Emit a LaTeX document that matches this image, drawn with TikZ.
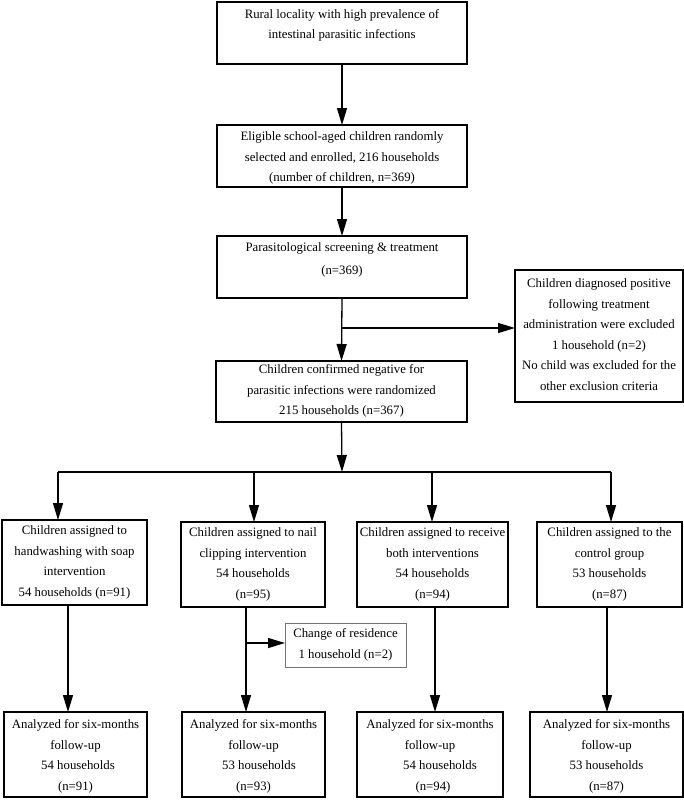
\documentclass[tikz,border=0pt]{standalone}
\usepackage{fontspec}
\setmainfont{Liberation Serif}
\usetikzlibrary{arrows.meta}
\newcommand{\bxtext}[4]{\begin{minipage}[c][#2pt][t]{#1pt}\centering\fontsize{12.8}{20.5}\selectfont\rule{0pt}{#3pt}#4\end{minipage}}
\tikzset{
  box/.style={draw, line width=1.3pt, inner sep=0pt, outer sep=0pt},
  exbox/.style={draw, line width=2.2pt, inner sep=0pt, outer sep=0pt},
  thinbox/.style={draw=black!55, line width=0.9pt, inner sep=0pt, outer sep=0pt},
  conn/.style={line width=1.3pt},
  arr/.style={line width=1.3pt, -{Triangle[length=17pt,width=10pt]}}
}
\begin{document}
\begin{tikzpicture}[x=1pt,y=-1pt]
\useasboundingbox[fill=white] (0,0) rectangle (684,800);
% main column
\node[box] (b1) at (342,33) {\bxtext{250}{62}{16.5}{Rural locality with high prevalence of\\ intestinal parasitic infections}};
\node[box] (b2) at (342,156) {\bxtext{250}{62}{15.5}{Eligible school-aged children randomly\\ selected and enrolled, 216 households\\ (number of children, n=369)}};
\node[box] (b3) at (342,267) {\bxtext{250}{62}{15.5}{Parasitological screening \& treatment\\[2.5pt] (n=369)}};
\node[exbox] (ex) at (599,336) {\bxtext{168}{132}{17.5}{Children diagnosed positive\\ following treatment\\ administration were excluded\\ 1 household (n=2)\\ No child was excluded for the\\ other exclusion criteria}};
\node[box] (b4) at (341.5,391.5) {\bxtext{251}{61}{12.5}{Children confirmed negative for\\ parasitic infections were randomized\\ 215 households (n=367)}};
% groups
\node[box] (ga) at (74.5,562.5) {\bxtext{145}{85}{14.5}{Children assigned to\\ handwashing with soap\\ intervention\\ 54 households (n=91)}};
\node[box] (gb) at (253,564.5) {\bxtext{144}{85}{14.5}{Children assigned to nail\\ clipping intervention\\ 54 households\\ (n=95)}};
\node[box] (gc) at (432.5,564.5) {\bxtext{151}{85}{14.5}{Children assigned to receive\\ both interventions\\ 54 households\\ (n=94)}};
\node[box] (gd) at (609.5,564.5) {\bxtext{145}{85}{14.5}{Children assigned to the\\ control group\\ 53 households\\ (n=87)}};
\node[thinbox] (chg) at (345.5,645) {\bxtext{121}{44}{14.5}{Change of residence\\ 1 household (n=2)}};
% analyzed
\node[box] (aa) at (75.5,754.5) {\bxtext{143}{85}{16.5}{Analyzed for six-months\\ follow-up\\ \hspace*{5pt}54 households\\ (n=91)}};
\node[box] (ab) at (253.5,754.5) {\bxtext{143}{85}{16.5}{Analyzed for six-months\\ follow-up\\ \hspace*{11pt}53 households\\ (n=93)}};
\node[box] (ac) at (430,754.5) {\bxtext{146}{85}{16.5}{Analyzed for six-months\\ follow-up\\ \hspace*{20pt}54 households\\ \hspace*{6pt}(n=94)}};
\node[box] (ad) at (606.5,754.5) {\bxtext{153}{85}{16.5}{Analyzed for six-months\\ follow-up\\ 53 households\\ (n=87)}};
% coordinates
\coordinate (j1) at (342,328);
\coordinate (hub) at (342,472);
\coordinate (ha) at (58,472);
\coordinate (hb) at (254,472);
\coordinate (hc) at (432,472);
\coordinate (hd) at (611,472);
\coordinate (oa) at (68,0);
\coordinate (ob) at (246,0);
\coordinate (oc) at (435,0);
\coordinate (od) at (607,0);
\coordinate (j2) at (246,643);
% connectors
\draw[arr] (b1.south) -- (b2.north);
\draw[arr] (b2.south) -- (b3.north);
\draw[arr] (b3.south) -- (b4.north);
\draw[arr] (j1) -- (ex.west |- j1);
\draw[arr] (b4.south) -- (hub);
\draw[conn] (ha) -- (hd);
\draw[arr] (ha) -- (ha |- ga.north);
\draw[arr] (hb) -- (hb |- gb.north);
\draw[arr] (hc) -- (hc |- gc.north);
\draw[arr] (hd) -- (hd |- gd.north);
\draw[arr] (oa |- ga.south) -- (oa |- aa.north);
\draw[arr] (ob |- gb.south) -- (ob |- ab.north);
\draw[arr] (oc |- gc.south) -- (oc |- ac.north);
\draw[arr] (od |- gd.south) -- (od |- ad.north);
\draw[arr] (j2) -- (chg.west |- j2);
\end{tikzpicture}
\end{document}
